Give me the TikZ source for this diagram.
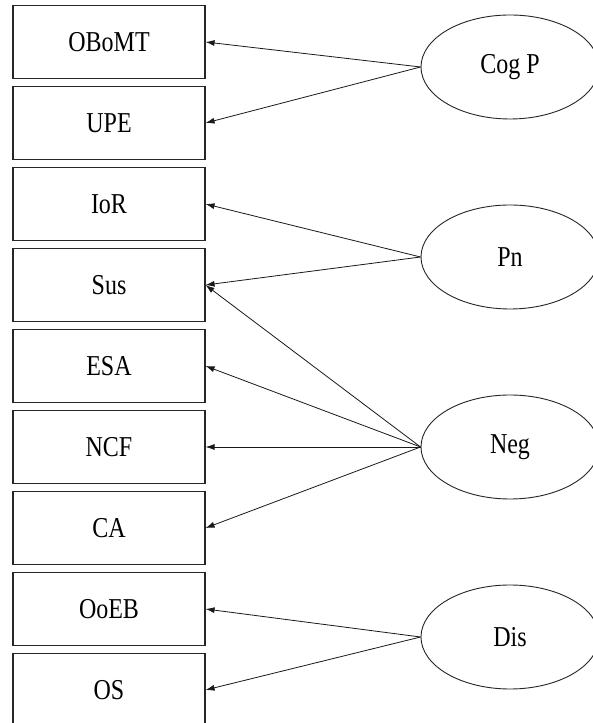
\documentclass[tikz,border=0pt]{standalone}
\usepackage{fontspec}
\setmainfont{Liberation Serif}
\usetikzlibrary{shapes.geometric,arrows.meta}
\newcommand{\talltext}[1]{\scalebox{1}[1.2]{#1}}
\begin{document}
\begin{tikzpicture}[x=1pt,y=1pt,
  itembox/.style={draw=black!85,line width=1.1pt,minimum width=192pt,minimum height=73pt,inner sep=0pt,font=\fontsize{24}{28}\selectfont},
  latent/.style={draw=black!85,ellipse,line width=0.9pt,minimum width=178pt,minimum height=104pt,inner sep=0pt,font=\fontsize{24}{28}\selectfont},
  link/.style={draw=black!90,line width=0.8pt,-{Latex[length=9pt,width=6pt]}}]
\useasboundingbox (0,0) rectangle (593,723);
\clip (0,0) rectangle (593,723);
\fill[white] (0,0) rectangle (593,723);
\node[itembox] (b1) at (109,723-42) {\talltext{OBoMT}};
\node[itembox] (b2) at (109,723-123) {\talltext{UPE}};
\node[itembox] (b3) at (109,723-204) {\talltext{IoR}};
\node[itembox] (b4) at (109,723-285) {\talltext{Sus}};
\node[itembox] (b5) at (109,723-366) {\talltext{ESA}};
\node[itembox] (b6) at (109,723-447) {\talltext{NCF}};
\node[itembox] (b7) at (109,723-528) {\talltext{CA}};
\node[itembox] (b8) at (109,723-609) {\talltext{OoEB}};
\node[itembox] (b9) at (109,723-690) {\talltext{OS}};
\node[latent] (cog) at (510,723-67) {\talltext{Cog P}};
\node[latent] (pn) at (510,723-257) {\talltext{Pn}};
\node[latent] (neg) at (510,723-447) {\talltext{Neg}};
\node[latent] (dis) at (510,723-637) {\talltext{Dis}};
\draw[link] (cog.west) -- (b1.east);
\draw[link] (cog.west) -- (b2.east);
\draw[link] (pn.west) -- (b3.east);
\draw[link] (pn.west) -- (b4.east);
\draw[link] (neg.west) -- (b4.east);
\draw[link] (neg.west) -- (b5.east);
\draw[link] (neg.west) -- (b6.east);
\draw[link] (neg.west) -- (b7.east);
\draw[link] (dis.west) -- (b8.east);
\draw[link] (dis.west) -- (b9.east);
\end{tikzpicture}
\end{document}
